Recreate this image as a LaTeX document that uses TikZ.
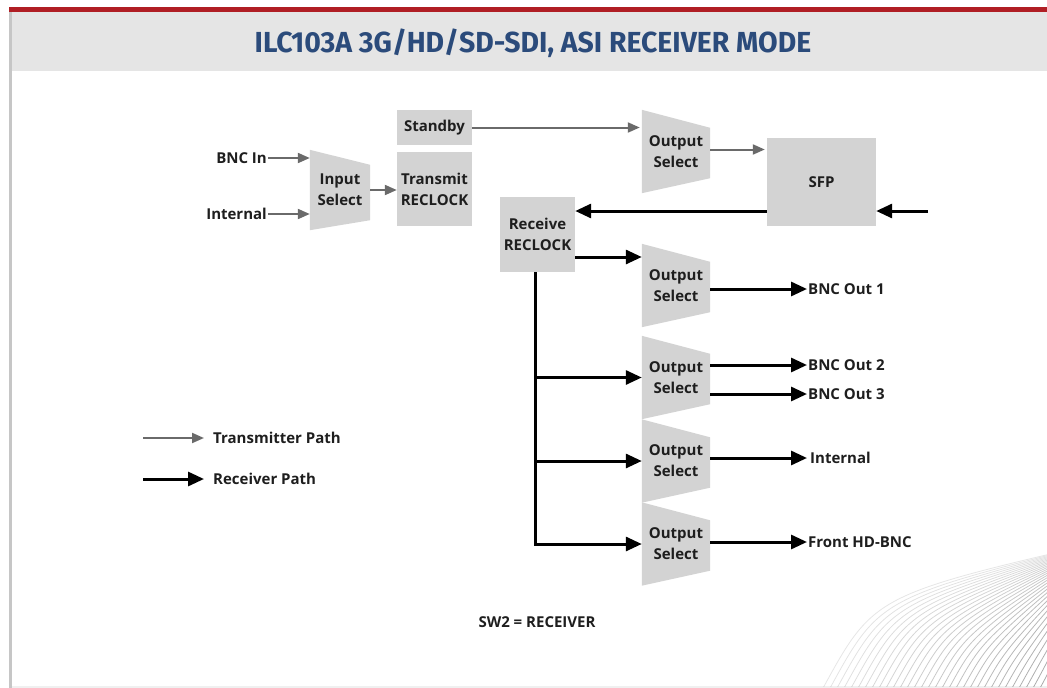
\documentclass[tikz,border=0pt]{standalone}
\usepackage{fontspec}
\usepackage{graphicx}
\setmainfont{Open Sans}
\newfontfamily\titlefont{Fira Sans}
\usetikzlibrary{arrows.meta,backgrounds}
\definecolor{boxgray}{HTML}{D3D3D3}
\definecolor{txgray}{HTML}{6A6A6A}
\definecolor{txt}{HTML}{1E1E1E}
\definecolor{titleblue}{HTML}{2B4B7B}
\definecolor{redbar}{HTML}{B01E24}
\definecolor{band}{HTML}{E5E5E5}
\begin{document}
\begin{tikzpicture}[x=1pt,y=-1pt,
  bodyfont/.style={font=\fontsize{15}{21}\selectfont\bfseries},
  box/.style={bodyfont, fill=boxgray, inner sep=0pt, align=center, text=txt},
  mux/.style={bodyfont, inner sep=0pt, minimum width=68pt, minimum height=83pt, align=center, text=txt},
  lbl/.style={bodyfont, inner sep=0pt, text=txt},
  tx/.style={draw=txgray, line width=2pt, -{Triangle[length=12pt,width=10pt]}},
  rx/.style={draw=black, line width=3pt, -{Triangle[length=16pt,width=14pt]}}
]
\useasboundingbox (0,0) rectangle (1047,688);

% frame and title band
\fill[band] (12,12) rectangle (1047,71);
\fill[redbar] (9,7) rectangle (1047,12);
\fill[gray!45] (9,12) rectangle (12,688);
\fill[gray!12] (12,686) rectangle (1047,688);
\node[text=titleblue, inner sep=0pt] (title) at (533,43)
  {\scalebox{0.98}[1]{\titlefont\fontsize{29}{32}\selectfont\bfseries ILC103A 3G/HD/SD-SDI, ASI RECEIVER MODE}};

% decorative lines
\begin{scope}
\clip (700,500) rectangle (1047,686);
\foreach \i in {0,...,40} {
  \pgfmathsetmacro\s{822+\i*7}
  \pgfmathsetmacro\d{1110-\s}
  \pgfmathsetmacro\op{0.2+0.6*\i/40}
  \draw[gray, line width=0.8pt, opacity=\op] (\s,690) .. controls ({\s+0.18*\d},{690-0.33*\d}) .. (1110,540);
}
\end{scope}

% blocks
\node[box, minimum width=75pt, minimum height=35pt] (sb) at (434.5,127.5) {Standby};
\node[box, minimum width=75pt, minimum height=74pt] (tr) at (434.5,189) {Transmit\\RECLOCK};
\node[box, minimum width=109pt, minimum height=88pt] (sfp) at (821.5,182) {SFP};
\node[box, minimum width=75pt, minimum height=75pt] (rr) at (537.5,234.5) {Receive\\RECLOCK};

\node[mux, minimum width=60pt, minimum height=80pt] (ins) at (340,190) {Input\\Select};
\node[mux] (os1) at (676,151.5) {Output\\Select};
\node[mux] (os2) at (676,285.5) {Output\\Select};
\node[mux] (os3) at (676,377.5) {Output\\Select};
\node[mux] (os4) at (676,461) {Output\\Select};
\node[mux] (os5) at (676,544) {Output\\Select};

\begin{scope}[on background layer]
\fill[boxgray] (ins.north west) -- ([yshift=-15pt]ins.north east) -- ([yshift=10pt]ins.south east) -- (ins.south west) -- cycle;
\foreach \n in {os1,os2,os3,os4,os5}
  \fill[boxgray] (\n.north west) -- ([yshift=-18pt]\n.north east) -- ([yshift=15pt]\n.south east) -- (\n.south west) -- cycle;
\end{scope}

% inputs
\node[lbl, anchor=east] (bncin) at (267,158) {BNC In};
\node[lbl, anchor=east] (intin) at (267,214) {Internal};
\coordinate (rxin) at (928,211);

% outputs
\node[lbl, anchor=west] (out1) at (808,289) {BNC Out 1};
\node[lbl, anchor=west] (out2) at (808,365) {BNC Out 2};
\node[lbl, anchor=west] (out3) at (808,394) {BNC Out 3};
\node[lbl, anchor=west] (out4) at (810,458) {Internal};
\node[lbl, anchor=west] (out5) at (808,542) {Front HD-BNC};

% transmitter path
\draw[tx] ([xshift=1pt]bncin.east) -- (bncin.east -| ins.west);
\draw[tx] ([xshift=1pt]intin.east) -- (intin.east -| ins.west);
\draw[tx] (ins.east) -- (ins.east -| tr.west);
\draw[tx] (sb.east) -- ([xshift=-2pt]sb.east -| os1.west);
\draw[tx] ([yshift=2pt]os1.east) -- ([yshift=2pt,xshift=-2pt]os1.east -| sfp.west);

% receiver path
\draw[rx] (rxin) -- (rxin -| sfp.east);
\draw[rx] ([yshift=-29pt]sfp.west) -- ([yshift=-29pt]sfp.west -| rr.east);
\draw[rx] ([yshift=-22.5pt]rr.east) -- ([yshift=-22.5pt]rr.east -| os2.west);
\draw[rx] ([xshift=-2pt]rr.south) |- (os5.west);
\draw[rx] ([xshift=-2pt]rr.south |- os3.west) -- (os3.west);
\draw[rx] ([xshift=-2pt]rr.south |- os4.west) -- (os4.west);

\draw[rx] (os2.east |- out1.west) -- ([xshift=-1pt]out1.west);
\draw[rx] (os3.east |- out2.west) -- ([xshift=-1pt]out2.west);
\draw[rx] (os3.east |- out3.west) -- ([xshift=-1pt]out3.west);
\draw[rx] (os4.east |- out4.west) -- ([xshift=-3pt]out4.west);
\draw[rx] (os5.east |- out5.west) -- ([xshift=-1pt]out5.west);

% legend
\node[lbl, anchor=west] (legtx) at (213,438) {Transmitter Path};
\node[lbl, anchor=west] (legrx) at (213,479) {Receiver Path};
\coordinate (legtxs) at (143,438);
\coordinate (legrxs) at (143,479);
\draw[tx] (legtxs) -- ([xshift=-9pt]legtx.west);
\draw[rx] (legrxs) -- ([xshift=-9pt]legrx.west);

\node[lbl] (sw2) at (537,622) {SW2 = RECEIVER};
\end{tikzpicture}
\end{document}
